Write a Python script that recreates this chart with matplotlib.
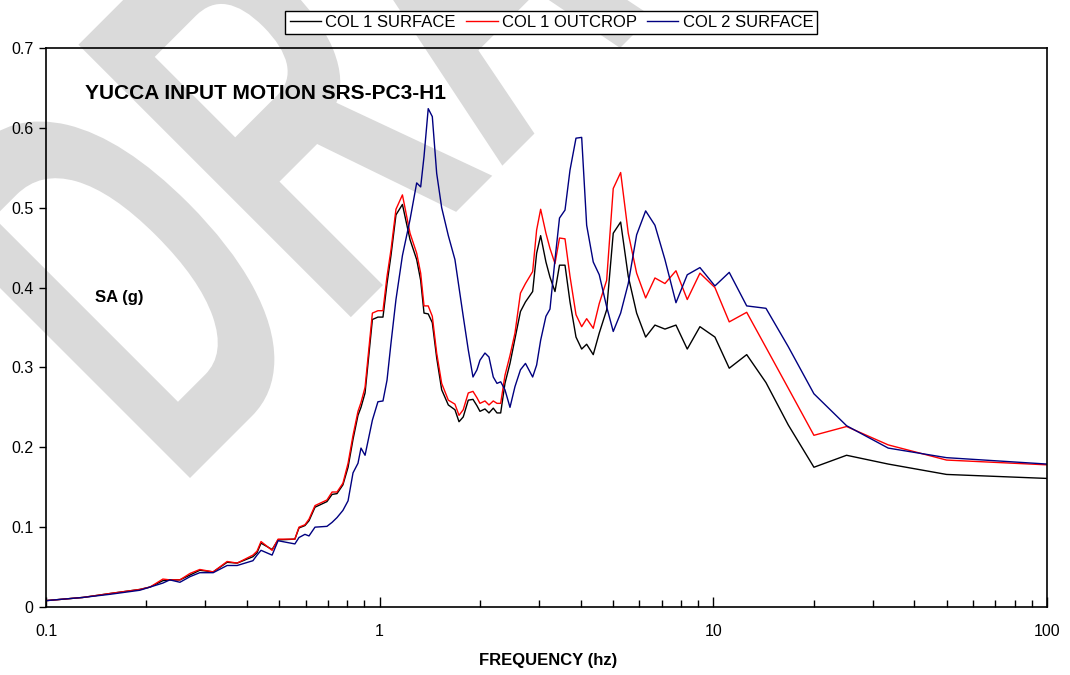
import matplotlib
matplotlib.use('Agg')
import matplotlib.pyplot as plt
from matplotlib.ticker import FixedLocator, NullFormatter, LogLocator
from matplotlib.textpath import TextPath
from matplotlib.patches import PathPatch
from matplotlib.font_manager import FontProperties
from matplotlib.transforms import Affine2D, IdentityTransform

plt.rcParams['font.family'] = ['Liberation Sans', 'DejaVu Sans']

# frequency (hz)
freq = [0.100, 0.129, 0.156, 0.191, 0.205, 0.224, 0.235, 0.252, 0.270, 0.289,
        0.317, 0.349, 0.374, 0.417, 0.429, 0.441, 0.476, 0.496, 0.557, 0.573,
        0.597, 0.614, 0.640, 0.695, 0.720, 0.745, 0.776, 0.804, 0.832, 0.861,
        0.879, 0.904, 0.951, 0.988, 1.023, 1.052, 1.081, 1.119, 1.170, 1.233,
        1.291, 1.327, 1.358, 1.398, 1.438, 1.482, 1.534, 1.606, 1.681, 1.729,
        1.780, 1.843, 1.904, 1.957, 1.998, 2.068, 2.126, 2.190, 2.247, 2.305,
        2.374, 2.458, 2.544, 2.642, 2.735, 2.874, 2.954, 3.037, 3.150, 3.239,
        3.353, 3.459, 3.593, 3.719, 3.876, 4.031, 4.172, 4.366, 4.551, 4.789,
        5.012, 5.275, 5.559, 5.890, 6.268, 6.683, 7.161, 7.727, 8.353, 9.117,
        10.11, 11.16, 12.59, 14.38, 16.77, 20.02, 25.08, 33.43, 50.0, 100.0]

col1_surface = [0.008, 0.012, 0.017, 0.022, 0.025, 0.033, 0.034, 0.034, 0.040, 0.046,
                0.044, 0.056, 0.055, 0.063, 0.068, 0.080, 0.072, 0.084, 0.085, 0.099,
                0.102, 0.108, 0.125, 0.132, 0.141, 0.142, 0.153, 0.175, 0.210, 0.240,
                0.250, 0.268, 0.360, 0.363, 0.363, 0.405, 0.440, 0.491, 0.504, 0.460,
                0.435, 0.409, 0.368, 0.367, 0.356, 0.312, 0.272, 0.253, 0.247, 0.232,
                0.238, 0.259, 0.260, 0.252, 0.245, 0.248, 0.243, 0.249, 0.243, 0.243,
                0.280, 0.305, 0.336, 0.370, 0.382, 0.395, 0.443, 0.465, 0.432, 0.413,
                0.395, 0.428, 0.428, 0.382, 0.338, 0.323, 0.329, 0.316, 0.343, 0.372,
                0.468, 0.482, 0.414, 0.368, 0.338, 0.353, 0.348, 0.353, 0.323, 0.351,
                0.338, 0.299, 0.316, 0.281, 0.228, 0.175, 0.190, 0.179, 0.166, 0.161]

col1_outcrop = [0.008, 0.012, 0.017, 0.022, 0.025, 0.035, 0.034, 0.034, 0.042, 0.047,
                0.044, 0.057, 0.055, 0.065, 0.070, 0.082, 0.071, 0.085, 0.085, 0.100,
                0.103, 0.110, 0.127, 0.134, 0.144, 0.144, 0.155, 0.180, 0.215, 0.245,
                0.256, 0.275, 0.368, 0.371, 0.371, 0.414, 0.447, 0.498, 0.516, 0.468,
                0.443, 0.418, 0.377, 0.377, 0.364, 0.318, 0.280, 0.259, 0.254, 0.240,
                0.247, 0.268, 0.270, 0.262, 0.255, 0.258, 0.253, 0.258, 0.255, 0.255,
                0.290, 0.315, 0.343, 0.393, 0.405, 0.420, 0.472, 0.498, 0.468, 0.449,
                0.430, 0.462, 0.461, 0.414, 0.366, 0.351, 0.361, 0.349, 0.380, 0.409,
                0.524, 0.544, 0.468, 0.418, 0.387, 0.412, 0.405, 0.421, 0.385, 0.418,
                0.400, 0.357, 0.369, 0.325, 0.274, 0.215, 0.226, 0.203, 0.184, 0.178]

col2_surface = [0.008, 0.012, 0.016, 0.021, 0.025, 0.030, 0.034, 0.031, 0.038, 0.043,
                0.043, 0.052, 0.052, 0.058, 0.065, 0.071, 0.065, 0.083, 0.079, 0.087,
                0.091, 0.089, 0.100, 0.101, 0.106, 0.112, 0.121, 0.133, 0.168, 0.180,
                0.199, 0.190, 0.234, 0.257, 0.258, 0.284, 0.330, 0.385, 0.440, 0.485,
                0.531, 0.526, 0.564, 0.624, 0.614, 0.543, 0.500, 0.465, 0.435, 0.400,
                0.364, 0.322, 0.288, 0.297, 0.309, 0.318, 0.313, 0.288, 0.280, 0.282,
                0.272, 0.250, 0.276, 0.297, 0.305, 0.288, 0.303, 0.334, 0.364, 0.373,
                0.435, 0.487, 0.497, 0.547, 0.587, 0.588, 0.478, 0.432, 0.416, 0.376,
                0.345, 0.368, 0.405, 0.466, 0.496, 0.478, 0.435, 0.381, 0.416, 0.425,
                0.402, 0.419, 0.377, 0.374, 0.326, 0.267, 0.227, 0.199, 0.187, 0.179]

fig = plt.figure(figsize=(10.7, 6.75), dpi=100)
ax = fig.add_axes([0.043, 0.1007, 0.9355, 0.8283])
ax.set_facecolor('none')

# DRAFT watermark behind the plot (stretched, rotated text outline in pixels)
tp = TextPath((0, 0), 'DRAFT', size=1,
              prop=FontProperties(family='Liberation Sans', weight='bold'))
x0 = tp.get_extents().x0
wm_tr = Affine2D().translate(-x0, 0).scale(315, 560).rotate_deg(45).translate(190, 197)
wm = PathPatch(wm_tr.transform_path(tp), facecolor='#dadada', edgecolor='none',
               transform=IdentityTransform(), zorder=-5)
fig.add_artist(wm)

ax.plot(freq, col1_surface, color='black', lw=1.0, label='COL 1 SURFACE')
ax.plot(freq, col1_outcrop, color='#ff0000', lw=1.0, label='COL 1 OUTCROP')
ax.plot(freq, col2_surface, color='#000080', lw=1.0, label='COL 2 SURFACE')

ax.set_xscale('log')
ax.set_xlim(0.1, 100)
ax.set_ylim(0, 0.7)
ax.set_yticks([0, 0.1, 0.2, 0.3, 0.4, 0.5, 0.6, 0.7])
ax.set_yticklabels(['0', '0.1', '0.2', '0.3', '0.4', '0.5', '0.6', '0.7'])
ax.xaxis.set_major_locator(FixedLocator([0.1, 1, 10, 100]))
ax.set_xticklabels(['0.1', '1', '10', '100'])
ax.xaxis.set_minor_locator(LogLocator(base=10, subs=range(2, 10)))
ax.xaxis.set_minor_formatter(NullFormatter())
ax.tick_params(axis='x', which='major', direction='in', length=7, width=1, labelsize=11.5, pad=12)
ax.tick_params(axis='x', which='minor', direction='in', length=5, width=1)
ax.tick_params(axis='y', direction='out', length=5, width=1, labelsize=11.5, pad=4)
for s in ax.spines.values():
    s.set_linewidth(1.2)

ax.text(0.039, 0.918, 'YUCCA INPUT MOTION SRS-PC3-H1', transform=ax.transAxes,
        fontsize=15, fontweight='bold', va='center', ha='left')
ax.text(0.049, 0.553, 'SA (g)', transform=ax.transAxes,
        fontsize=12, fontweight='bold', va='center', ha='left')
fig.text(0.512, 0.022, 'FREQUENCY (hz)', fontsize=12, fontweight='bold', ha='center', va='center')

fig.legend(loc='lower center', bbox_to_anchor=(0.5154, 0.949), ncol=3, fontsize=12,
           frameon=True, fancybox=False, edgecolor='black', framealpha=1,
           handlelength=1.9, handletextpad=0.25, columnspacing=0.6,
           borderpad=0.25, borderaxespad=0)

fig.savefig('out.png', dpi=100)
